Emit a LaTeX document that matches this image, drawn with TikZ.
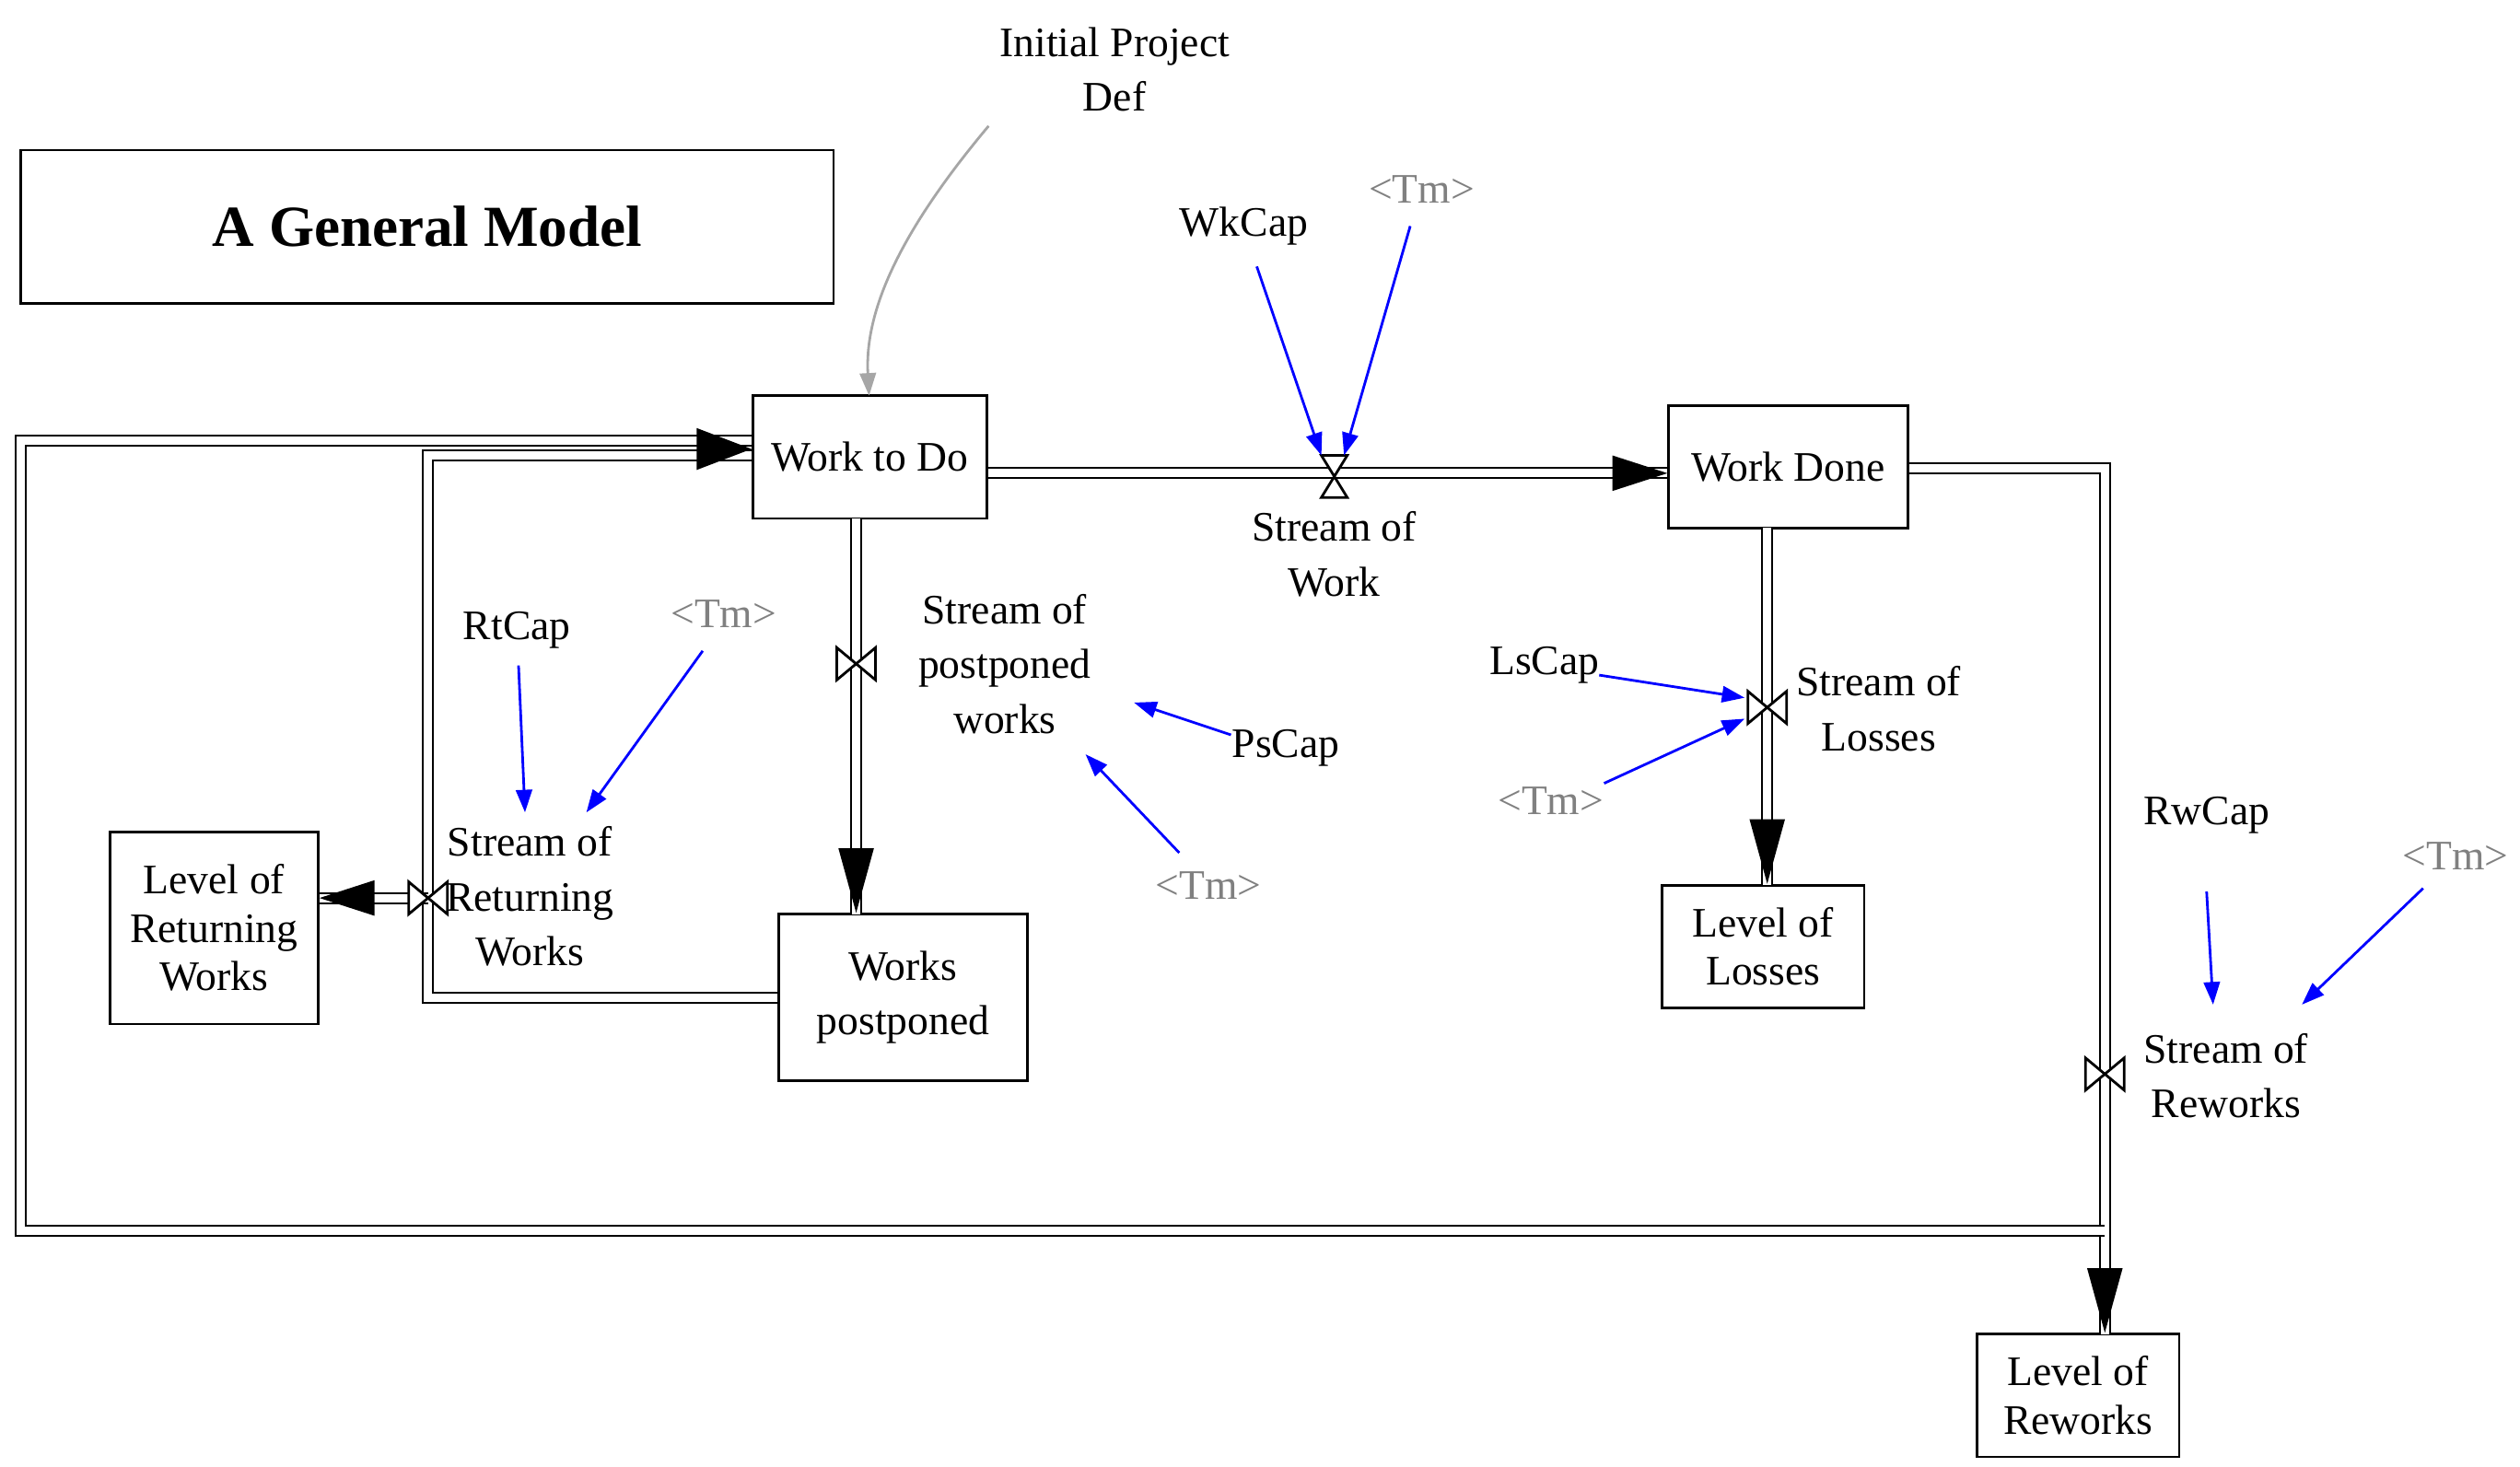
\documentclass[tikz,border=0pt]{standalone}
\usepackage{fontspec}
\setmainfont{Liberation Serif}
\usetikzlibrary{arrows.meta}
\begin{document}
\begin{tikzpicture}[x=0.5pt,y=-0.5pt,
  box/.style={draw,thick,align=center,inner sep=0pt,font=\fontsize{13}{15}\selectfont},
  lbl/.style={align=center,font=\fontsize{13}{17}\selectfont,inner sep=1pt},
  tm/.style={lbl,text=gray},
  pipe/.style={draw,double,double distance=2.5pt,line width=0.6pt},
  info/.style={draw=blue,line width=0.8pt,-{Triangle[length=7pt,width=5pt]},fill=blue},
  vh/.style={draw,thick,fill=white},
]
\useasboundingbox (0,0) rectangle (1560,908);
% boxes
\node[box,minimum width=251.5pt,minimum height=47.5pt,font=\fontsize{18}{20}\selectfont\bfseries] (title) at (264.5,140.5) {A General Model};
\node[box,minimum width=72.5pt,minimum height=38pt] (wtd) at (538.5,283) {Work to Do};
\node[box,minimum width=74pt,minimum height=38pt] (wd) at (1107,289) {Work Done};
\node[box,minimum width=77pt,minimum height=51.5pt] (wp) at (559,617.5) {Works\\[2pt]postponed};
\node[box,minimum width=64.5pt,minimum height=59.5pt] (lrw) at (132.5,574.5) {Level of\\Returning\\Works};
\node[box,minimum width=62.5pt,minimum height=38pt] (ll) at (1091.5,586) {Level of\\Losses};
\node[box,minimum width=62.5pt,minimum height=38pt] (lrk) at (1286.5,864) {Level of\\Reworks};
% labels
\node[lbl] (ipd) at (690,43) {Initial Project\\Def};
\node[lbl] (wkcap) at (770,140) {WkCap};
\node[tm] (tm1) at (880,117) {<Tm>};
\node[lbl] (sow) at (826,343) {Stream of\\Work};
\node[lbl] (sop) at (622,411) {Stream of\\postponed\\works};
\node[lbl] (pscap) at (796,463) {PsCap};
\node[tm] (tm2) at (748,548) {<Tm>};
\node[lbl] (rtcap) at (320,390) {RtCap};
\node[tm] (tm3) at (448,380) {<Tm>};
\node[lbl] (sor) at (328,555) {Stream of\\Returning\\Works};
\node[lbl] (lscap) at (956,412) {LsCap};
\node[tm] (tm4) at (960,496) {<Tm>};
\node[lbl] (sol) at (1163,439) {Stream of\\Losses};
\node[lbl] (rwcap) at (1366,505) {RwCap};
\node[tm] (tm5) at (1520,530) {<Tm>};
\node[lbl] (sork) at (1378,666) {Stream of\\Reworks};
% coordinates
\coordinate (v1) at (826,295);
\coordinate (v2) at (530,411);
\coordinate (v3) at (265,556);
\coordinate (v4) at (1094,438);
\coordinate (v5) at (1303,665);
% pipes
\draw[pipe] (wtd.east|-0,293) -- (wd.west|-0,293);
\fill (wd.west|-0,293) -- ++(-34,-11) -- ++(0,22) -- cycle;
\draw[pipe] (530,321) -- (530,566);
\fill (wp.north-|530,0) -- ++(-11,-40) -- ++(22,0) -- cycle;
\draw[pipe] (wp.west|-0,618) -- (265,618) -- (265,282) -- (wtd.west|-0,282);
\draw[pipe] (265,556) -- (lrw.east|-0,556);
\fill (lrw.east|-0,556) -- ++(34,-11) -- ++(0,22) -- cycle;
\draw[pipe] (wd.east|-0,290) -- (1303,290) -- (1303,826);
\fill (lrk.north-|1303,0) -- ++(-11,-40) -- ++(22,0) -- cycle;
\draw[pipe] (1303,762) -- (13,762) -- (13,273) -- (wtd.west|-0,273);
\fill (wtd.west|-0,278) -- ++(-34,-13) -- ++(0,26) -- cycle;
\draw[pipe] (1094,327) -- (1094,548);
\fill (ll.north-|1094,0) -- ++(-11,-40) -- ++(22,0) -- cycle;
% valves
\draw[vh] (v1) -- ++(-8,-13) -- ++(16,0) -- cycle (v1) -- ++(-8,13) -- ++(16,0) -- cycle;
\foreach \v in {v2,v3,v4,v5}
  \draw[vh] (\v) -- ++(-12,-10) -- ++(0,20) -- cycle (\v) -- ++(12,-10) -- ++(0,20) -- cycle;
% info arrows
\draw[gray!70,line width=0.8pt,-{Triangle[length=7pt,width=5pt]}] (612,78) .. controls (560,140) and (535,190) .. (538,245);
\draw[info] (778,165) -- (818,282);
\draw[info] (873,140) -- (832,282);
\draw[info] (762,455) -- (702,435);
\draw[info] (730,528) -- (672,467);
\draw[info] (321,412) -- (325,503);
\draw[info] (435,403) -- (363,503);
\draw[info] (990,418) -- (1080,432);
\draw[info] (993,485) -- (1080,445);
\draw[info] (1366,552) -- (1370,622);
\draw[info] (1500,550) -- (1425,622);
\end{tikzpicture}
\end{document}
